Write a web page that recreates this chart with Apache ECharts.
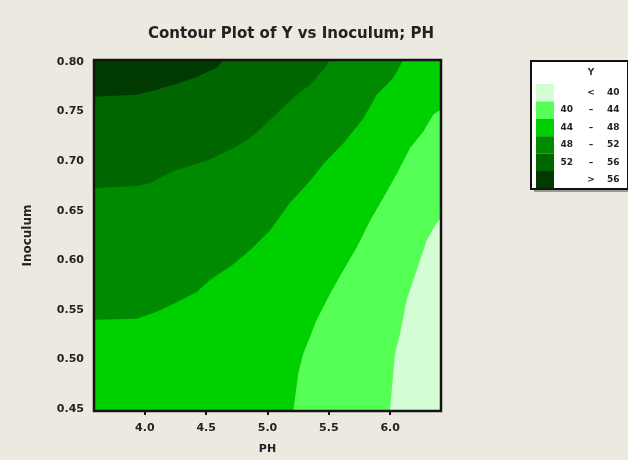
<!DOCTYPE html>
<html>
<head>
<meta charset="utf-8">
<script src="https://cdn.jsdelivr.net/npm/echarts@6/dist/echarts.min.js"></script>
<style>
html, body { margin: 0; padding: 0; background: #ece9e0; }
#chart { width: 628px; height: 460px; }
</style>
</head>
<body>
<div id="chart"></div>
<script>
// Axis extents and tick positions
const phRange = [3.586, 6.414];
const inoculumRange = [0.448, 0.802];
const phTicks = [4.0, 4.5, 5.0, 5.5, 6.0];
const inoculumTicks = [0.45, 0.50, 0.55, 0.60, 0.65, 0.70, 0.75, 0.80];

// Legend rows for the Y bands, lowest first
const bandLabels = [
  ['', '<', '40'],
  ['40', '\u2013', '44'],
  ['44', '\u2013', '48'],
  ['48', '\u2013', '52'],
  ['52', '\u2013', '56'],
  ['', '>', '56']
];
const bandColors = ['#d4fdd4', '#55ff55', '#00cf00', '#008a00', '#006600', '#003a00'];

// Contour lines as [PH, Inoculum] points
// Y = 40 and Y = 44 run from the bottom edge up to the right edge
const contour40 = [
  [5.998, 0.448], [6.039, 0.506], [6.080, 0.526], [6.134, 0.560], [6.189, 0.580],
  [6.243, 0.600], [6.297, 0.620], [6.379, 0.638], [6.414, 0.642]
];
const contour44 = [
  [5.210, 0.448], [5.251, 0.486], [5.292, 0.506], [5.401, 0.540], [5.509, 0.566],
  [5.618, 0.590], [5.727, 0.613], [5.835, 0.640], [5.944, 0.663], [6.053, 0.687],
  [6.161, 0.713], [6.270, 0.730], [6.352, 0.747], [6.414, 0.752]
];
// Y = 48, 52 and 56 run from the left edge across to the top edge
const contour48 = [
  [3.586, 0.540], [3.934, 0.541], [4.097, 0.548], [4.233, 0.556], [4.423, 0.568],
  [4.531, 0.580], [4.722, 0.596], [4.857, 0.610], [5.020, 0.630], [5.183, 0.658],
  [5.346, 0.680], [5.455, 0.697], [5.618, 0.718], [5.781, 0.743], [5.890, 0.767],
  [6.026, 0.784], [6.107, 0.802]
];
const contour52 = [
  [3.586, 0.673], [3.934, 0.675], [4.042, 0.678], [4.233, 0.690], [4.368, 0.695],
  [4.531, 0.702], [4.722, 0.713], [4.857, 0.723], [4.966, 0.735], [5.075, 0.748],
  [5.210, 0.764], [5.346, 0.777], [5.455, 0.792], [5.509, 0.802]
];
const contour56 = [
  [3.586, 0.765], [3.934, 0.767], [4.097, 0.772], [4.260, 0.778], [4.423, 0.785],
  [4.586, 0.794], [4.640, 0.802]
];

const [xMin, xMax] = phRange;
const [yMin, yMax] = inoculumRange;

// Filled regions: each band covers everything on the high side of its lower contour
const bandRegions = [
  [[xMin, yMin], [xMax, yMin], [xMax, yMax], [xMin, yMax]],
  contour40.concat([[xMax, yMax], [xMin, yMax], [xMin, yMin]]),
  contour44.concat([[xMax, yMax], [xMin, yMax], [xMin, yMin]]),
  contour48.concat([[xMin, yMax]]),
  contour52.concat([[xMin, yMax]]),
  contour56.concat([[xMin, yMax]])
];

const font = 'DejaVu Sans';
const chart = echarts.init(document.getElementById('chart'));

// Legend box built from the band labels and colours
const legendLeft = 530, legendTop = 60, rowH = 17.4, swTop = 83;
const legendChildren = [
  { type: 'rect', shape: { x: 3, y: 3, width: 97, height: 128 }, style: { fill: '#9a9890' } },
  { type: 'rect', shape: { x: 0, y: 0, width: 97, height: 128 }, style: { fill: '#ffffff', stroke: '#111', lineWidth: 2 } },
  { type: 'text', x: 60, y: 12, style: { text: 'Y', font: 'bold 9px ' + font, fill: '#333', align: 'center', verticalAlign: 'middle' } }
];
bandLabels.forEach((lab, i) => {
  const y = swTop - legendTop + i * rowH;
  legendChildren.push({ type: 'rect', shape: { x: 5, y: y, width: 18, height: rowH }, style: { fill: bandColors[i] } });
  const cy = y + rowH / 2;
  legendChildren.push({ type: 'text', x: 42, y: cy, style: { text: lab[0], font: 'bold 9px ' + font, fill: '#222', align: 'right', verticalAlign: 'middle' } });
  legendChildren.push({ type: 'text', x: 60, y: cy, style: { text: lab[1], font: 'bold 9px ' + font, fill: '#222', align: 'center', verticalAlign: 'middle' } });
  legendChildren.push({ type: 'text', x: 76, y: cy, style: { text: lab[2], font: 'bold 9px ' + font, fill: '#222', align: 'left', verticalAlign: 'middle' } });
});

const option = {
  backgroundColor: '#ece9e0',
  animation: false,
  title: {
    text: 'Contour Plot of Y vs Inoculum; PH',
    left: 286, top: 22, textAlign: 'center',
    textStyle: { fontFamily: font, fontSize: 15, fontWeight: 'bold', color: '#222' }
  },
  grid: { left: 94, right: 187, top: 60, bottom: 47 },
  xAxis: {
    type: 'value', min: xMin, max: xMax,
    name: 'PH', nameLocation: 'middle', nameGap: 33,
    nameTextStyle: { fontFamily: font, fontSize: 11, fontWeight: 'bold', color: '#222' },
    axisLine: { show: false },
    splitLine: { show: false },
    axisTick: { show: true, inside: false, length: 4, customValues: phTicks, lineStyle: { color: '#111', width: 2 } },
    axisLabel: { customValues: phTicks, margin: 12, formatter: v => v.toFixed(1),
      fontFamily: font, fontSize: 11, fontWeight: 'bold', color: '#222' }
  },
  yAxis: {
    type: 'value', min: yMin, max: yMax,
    name: 'Inoculum', nameLocation: 'middle', nameGap: 60, nameRotate: 90,
    nameTextStyle: { fontFamily: font, fontSize: 12, fontWeight: 'bold', color: '#222' },
    axisLine: { show: false },
    splitLine: { show: false },
    axisTick: { show: false, customValues: inoculumTicks },
    axisLabel: { customValues: inoculumTicks, margin: 10, formatter: v => v.toFixed(2),
      fontFamily: font, fontSize: 11, fontWeight: 'bold', color: '#222' }
  },
  graphic: [
    { type: 'group', left: legendLeft, top: legendTop, children: legendChildren }
  ],
  series: [
    {
      type: 'custom',
      clip: true,
      data: bandRegions.map((r, i) => [i]),
      encode: { x: -1, y: -1 },
      renderItem: function (params, api) {
        const i = params.dataIndex;
        return {
          type: 'polygon',
          shape: { points: bandRegions[i].map(p => api.coord(p)) },
          style: { fill: bandColors[i], stroke: null }
        };
      },
      z: 1
    },
    {
      // plot frame
      type: 'custom',
      clip: false,
      data: [[0]],
      encode: { x: -1, y: -1 },
      renderItem: function (params, api) {
        const tl = api.coord([xMin, yMax]);
        const br = api.coord([xMax, yMin]);
        return {
          type: 'rect',
          shape: { x: tl[0], y: tl[1], width: br[0] - tl[0], height: br[1] - tl[1] },
          style: { fill: null, stroke: '#151515', lineWidth: 2.5 }
        };
      },
      z: 5
    }
  ]
};
chart.setOption(option);
</script>
</body>
</html>
